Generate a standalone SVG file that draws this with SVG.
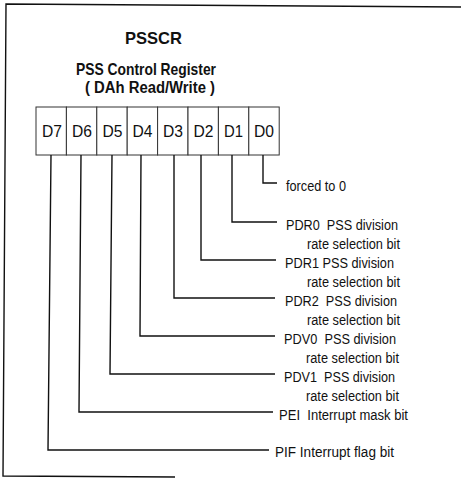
<svg xmlns="http://www.w3.org/2000/svg" width="461" height="480" viewBox="0 0 461 480">
<style>
.t{font-family:"Liberation Sans",Arial,sans-serif;fill:#111}
.h{font-weight:bold;font-size:17px}
.h2{font-weight:bold;font-size:16px}
.c{font-size:17px}
.l{font-size:14px}
.ln{fill:none;stroke:#111;stroke-width:1.4}
.cell{fill:#fff;stroke:#333;stroke-width:1}
</style>
<rect width="461" height="480" fill="#fff"/>
<g id="frame">
<path class="ln" d="M461,7 L6,4 L3,476 L175,477"/>
</g>
<g id="title">
<text class="t h" x="125" y="44" textLength="57" lengthAdjust="spacingAndGlyphs">PSSCR</text>
<text class="t h" x="76" y="74.5" textLength="140" lengthAdjust="spacingAndGlyphs">PSS Control Register</text>
<text class="t h2" x="85" y="93" textLength="130" lengthAdjust="spacingAndGlyphs" xml:space="preserve">( DAh Read/Write )</text>
</g>
<g id="register">
<rect class="cell" x="36" y="107" width="30.4" height="48"/>
<rect class="cell" x="66.4" y="107" width="30.4" height="48"/>
<rect class="cell" x="96.8" y="107" width="30.4" height="48"/>
<rect class="cell" x="127.2" y="107" width="30.4" height="48"/>
<rect class="cell" x="157.6" y="107" width="30.4" height="48"/>
<rect class="cell" x="188" y="107" width="30.4" height="48"/>
<rect class="cell" x="218.4" y="107" width="30.4" height="48"/>
<rect class="cell" x="248.8" y="107" width="30.4" height="48"/>
<text class="t c" x="42" y="137" textLength="20" lengthAdjust="spacingAndGlyphs">D7</text>
<text class="t c" x="72" y="137" textLength="20" lengthAdjust="spacingAndGlyphs">D6</text>
<text class="t c" x="102.5" y="137" textLength="20" lengthAdjust="spacingAndGlyphs">D5</text>
<text class="t c" x="132.5" y="137" textLength="20" lengthAdjust="spacingAndGlyphs">D4</text>
<text class="t c" x="163" y="137" textLength="20" lengthAdjust="spacingAndGlyphs">D3</text>
<text class="t c" x="193.5" y="137" textLength="20" lengthAdjust="spacingAndGlyphs">D2</text>
<text class="t c" x="224" y="137" textLength="19" lengthAdjust="spacingAndGlyphs">D1</text>
<text class="t c" x="254" y="137" textLength="20" lengthAdjust="spacingAndGlyphs">D0</text>
</g>
<g id="connectors">
<path class="ln" d="M263,155 V183 H277"/>
<path class="ln" d="M232,155 V222 H277"/>
<path class="ln" d="M201,155 V260 H276"/>
<path class="ln" d="M174,155 V298 H275"/>
<path class="ln" d="M141,155 L140,336 H275"/>
<path class="ln" d="M112,155 L110,374 H275"/>
<path class="ln" d="M81,155 L79,412 H273"/>
<path class="ln" d="M51,155 L48,450 H269"/>
</g>
<g id="bit0"><text class="t l" x="286" y="191" textLength="60" lengthAdjust="spacingAndGlyphs">forced to 0</text></g>
<g id="bit1"><text class="t l" x="286" y="230" textLength="112" lengthAdjust="spacingAndGlyphs" xml:space="preserve">PDR0  PSS division</text><text class="t l" x="307" y="249" textLength="93" lengthAdjust="spacingAndGlyphs">rate selection bit</text></g>
<g id="bit2"><text class="t l" x="285" y="268" textLength="109" lengthAdjust="spacingAndGlyphs">PDR1 PSS division</text><text class="t l" x="307" y="287" textLength="93" lengthAdjust="spacingAndGlyphs">rate selection bit</text></g>
<g id="bit3"><text class="t l" x="285" y="306" textLength="112" lengthAdjust="spacingAndGlyphs" xml:space="preserve">PDR2  PSS division</text><text class="t l" x="307" y="325" textLength="93" lengthAdjust="spacingAndGlyphs">rate selection bit</text></g>
<g id="bit4"><text class="t l" x="284" y="344" textLength="112" lengthAdjust="spacingAndGlyphs" xml:space="preserve">PDV0  PSS division</text><text class="t l" x="306" y="363" textLength="93" lengthAdjust="spacingAndGlyphs">rate selection bit</text></g>
<g id="bit5"><text class="t l" x="284" y="382" textLength="111" lengthAdjust="spacingAndGlyphs" xml:space="preserve">PDV1  PSS division</text><text class="t l" x="306" y="401" textLength="93" lengthAdjust="spacingAndGlyphs">rate selection bit</text></g>
<g id="bit6"><text class="t l" x="279" y="420" textLength="129" lengthAdjust="spacingAndGlyphs" xml:space="preserve">PEI  Interrupt mask bit</text></g>
<g id="bit7"><text class="t l" x="275" y="457" textLength="119" lengthAdjust="spacingAndGlyphs">PIF Interrupt flag bit</text></g>
</svg>
